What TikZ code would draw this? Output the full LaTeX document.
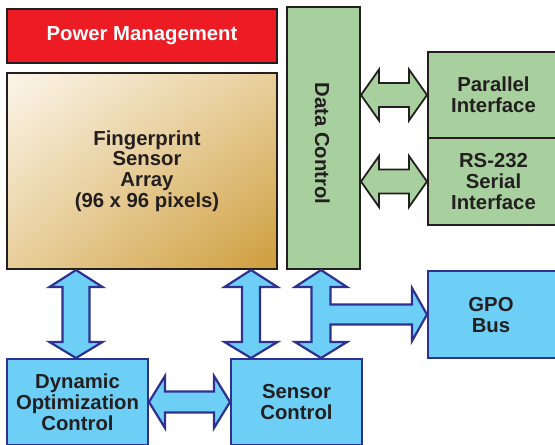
\documentclass[tikz,border=0pt]{standalone}
\usepackage{fontspec}
\setmainfont{Liberation Sans}
\usetikzlibrary{calc,shadings}
\definecolor{pmred}{HTML}{ED1C24}
\definecolor{dkline}{HTML}{231F20}
\definecolor{grn}{HTML}{A8D09E}
\definecolor{blu}{HTML}{6DCFF6}
\definecolor{bluline}{HTML}{2E3192}
\definecolor{tanA}{HTML}{FBF5EA}
\definecolor{tanM}{HTML}{E8CF9B}
\definecolor{tanB}{HTML}{CE9D3C}
% vertical double block arrow: #1 x, #2 top node, #3 bottom node, #4 shaft half, #5 head half
\newcommand\vbiarrow[5]{%
  \draw[barrow] let \p1=(#2.south), \p2=(#3.north) in
   (#1pt,\y1) -- (#1pt+#5pt,\y1-17pt) -- (#1pt+#4pt,\y1-17pt) -- (#1pt+#4pt,\y2+16pt)
   -- (#1pt+#5pt,\y2+16pt) -- (#1pt,\y2) -- (#1pt-#5pt,\y2+16pt) -- (#1pt-#4pt,\y2+16pt)
   -- (#1pt-#4pt,\y1-17pt) -- (#1pt-#5pt,\y1-17pt) -- cycle;}
% horizontal double block arrow: #1 style, #2 left node, #3 right node (y taken from it), #4 shaft half, #5 head half, #6 head length
\newcommand\hbiarrow[6]{%
  \draw[#1] let \p1=(#2.east), \p2=(#3.west) in
   (\x1,\y2) -- (\x1+#6pt,\y2+#5pt) -- (\x1+#6pt,\y2+#4pt) -- (\x2-#6pt,\y2+#4pt)
   -- (\x2-#6pt,\y2+#5pt) -- (\x2,\y2) -- (\x2-#6pt,\y2-#5pt) -- (\x2-#6pt,\y2-#4pt)
   -- (\x1+#6pt,\y2-#4pt) -- (\x1+#6pt,\y2-#5pt) -- cycle;}
\begin{document}
\begin{tikzpicture}[x=1pt,y=-1pt,
  box/.style={draw=dkline,line width=2pt,rectangle,inner sep=0pt,anchor=north west},
  bbox/.style={draw=bluline,line width=2pt,fill=blu,rectangle,inner sep=0pt,anchor=north west},
  txt/.style={font=\fontsize{20.3}{20.8}\selectfont\bfseries,text=dkline,align=center},
  barrow/.style={draw=bluline,line width=2.2pt,fill=blu,line join=miter},
  garrow/.style={draw=dkline,line width=1.8pt,fill=grn,line join=miter}]
\useasboundingbox (0,0) rectangle (555,445);
\fill[white] (0,0) rectangle (555,445);

% boxes
\node[box,fill=pmred,minimum width=270,minimum height=54,txt,text=white] (pm) at (6,8) {Power Management};
\node[box,upper left=tanA,upper right=tanM,lower left=tanM,lower right=tanB,draw=dkline,
      minimum width=270,minimum height=196] (fp) at (6,72) {};
\node[txt] (fptext) at (147,171) {Fingerprint\\Sensor\\Array\\(96 x 96 pixels)};
\node[box,fill=grn,minimum width=73,minimum height=262] (dc) at (286,6) {};
\node[txt,rotate=-90] (dctext) at (322.5,143.5) {Data Control};
\node[box,fill=grn,minimum width=131,minimum height=86,txt] (par) at (427,51) {Parallel\\Interface};
\node[box,fill=grn,minimum width=131,minimum height=87,txt] (rs) at (427,137) {RS-232\\Serial\\Interface};
\node[bbox,minimum width=131,minimum height=87] (gpo) at (427,270) {};
\node[txt] (gpotext) at (491,315) {GPO\\Bus};
\node[bbox,minimum width=141,minimum height=86,txt] (doc) at (6,358) {Dynamic\\Optimization\\Control};
\node[bbox,minimum width=131,minimum height=86,txt] (sc) at (230,358) {Sensor\\Control};

% green arrows
\hbiarrow{garrow}{dc}{par}{12}{25.5}{18}
\hbiarrow{garrow}{dc}{rs}{12}{25.5}{18}

% blue arrows
\vbiarrow{76}{fp}{doc}{13.5}{26.5}
\vbiarrow{251}{fp}{sc}{9}{26.5}
\hbiarrow{barrow}{doc}{sc}{10.5}{26}{16}
\draw[barrow] let \p1=(dc.south), \p2=(sc.north), \p3=(gpo.west) in
  (321pt,\y1) -- (347pt,\y1-17pt) -- (330.5pt,\y1-17pt) -- (330.5pt,\y3+10pt)
  -- (\x3-15pt,\y3+10pt) -- (\x3-15pt,\y3+26.5pt) -- (\x3,\y3) -- (\x3-15pt,\y3-26.5pt)
  -- (\x3-15pt,\y3-10pt) -- (330.5pt,\y3-10pt) -- (330.5pt,\y2+16pt) -- (347pt,\y2+16pt)
  -- (321pt,\y2) -- (295pt,\y2+16pt) -- (311.5pt,\y2+16pt) -- (311.5pt,\y1-17pt)
  -- (295pt,\y1-17pt) -- cycle;
\end{tikzpicture}
\end{document}
